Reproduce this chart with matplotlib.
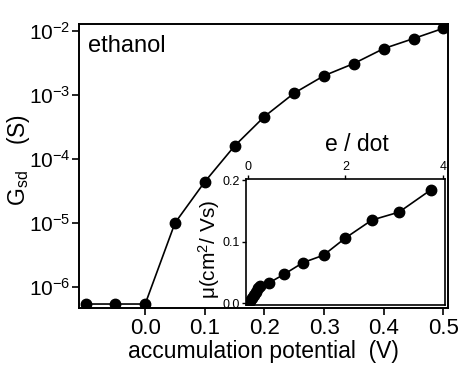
import numpy as np
import matplotlib
matplotlib.use("Agg")
import matplotlib.pyplot as plt

# Main panel: conductance vs accumulation potential
potential = [-0.1, -0.05, 0.0, 0.05, 0.1, 0.15, 0.2, 0.25, 0.3, 0.35, 0.4, 0.45, 0.5]
conductance = [5.4e-7, 5.4e-7, 5.4e-7, 1.0e-5, 4.4e-5, 1.6e-4, 4.6e-4,
               1.07e-3, 2.0e-3, 3.1e-3, 5.3e-3, 7.6e-3, 1.1e-2]

# Inset: mobility vs electrons per dot
electrons = [0.01, 0.05, 0.09, 0.13, 0.17, 0.21, 0.25, 0.44, 0.74, 1.13,
             1.55, 2.0, 2.54, 3.10, 3.75]
mobility = [0.0, 0.004, 0.009, 0.014, 0.019, 0.024, 0.028, 0.0335, 0.047,
            0.066, 0.078, 0.106, 0.135, 0.148, 0.184]

main_xticks = [0.0, 0.1, 0.2, 0.3, 0.4, 0.5]
main_yticks = [1e-6, 1e-5, 1e-4, 1e-3, 1e-2]
inset_xticks = [0, 2, 4]
inset_yticks = [0.0, 0.1, 0.2]

plt.rcParams['font.family'] = ['Liberation Sans', 'DejaVu Sans']
plt.rcParams['mathtext.fontset'] = 'custom'
plt.rcParams['mathtext.rm'] = 'Liberation Sans'
plt.rcParams['mathtext.it'] = 'Liberation Sans'

fig = plt.figure(figsize=(4.61, 3.68), dpi=100)

# main axes
ax = fig.add_axes([0.1714, 0.163, 0.8006, 0.772])
ax.semilogy(potential, conductance, color='black', lw=1.2,
            marker='o', ms=7.5, mfc='black', mec='black')
ax.set_xlim(-0.111, 0.508)
ax.set_ylim(10 ** -6.33, 10 ** -1.89)
ax.set_xticks(main_xticks)
ax.set_xticklabels([f"{t:.1f}" for t in main_xticks])
ax.set_yticks(main_yticks)
ax.set_yticklabels([r'$\mathregular{10^{%d}}$' % int(np.log10(t)) for t in main_yticks])
ax.minorticks_off()
ax.tick_params(direction='out', length=5, width=1.2, labelsize=16, pad=2)
ax.tick_params(axis='y', labelsize=15, pad=1)
for s in ax.spines.values():
    s.set_linewidth(1.4)
ax.set_xlabel('accumulation potential  (V)', fontsize=16.5, labelpad=1)
ax.set_ylabel(r'G$_{\mathregular{sd}}$    (S)', fontsize=16.5)
ax.yaxis.set_label_coords(-0.128, 0.52)
ax.text(0.025, 0.96, 'ethanol', transform=ax.transAxes, fontsize=17,
        va='top', ha='left')

# inset
ins = fig.add_axes([0.533, 0.171, 0.432, 0.343])
ins.plot(electrons, mobility, color='black', lw=1.2,
         marker='o', ms=7.5, mfc='black', mec='black')
ins.set_xlim(-0.047, 4.04)
ins.set_ylim(-0.003, 0.202)
ins.set_xticks(inset_xticks)
ins.set_yticks(inset_yticks)
ins.set_yticklabels([f"{t:.1f}" for t in inset_yticks])
ins.xaxis.tick_top()
ins.xaxis.set_label_position('top')
ins.tick_params(direction='out', length=3, width=1.0, labelsize=9, pad=1)
for s in ins.spines.values():
    s.set_linewidth(1.2)
ins.set_xlabel('e / dot', fontsize=16.5, labelpad=4)
ins.xaxis.set_label_coords(0.56, 1.22)
ins.set_ylabel(r'$\mathregular{\mu(cm^2/\ Vs)}$', fontsize=15)
ins.yaxis.set_label_coords(-0.12, 0.44)

fig.savefig('out.png', dpi=100)
